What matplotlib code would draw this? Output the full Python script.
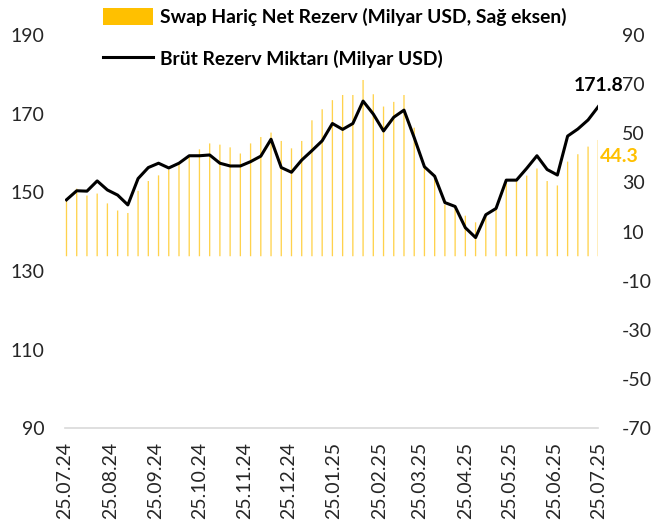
import matplotlib
matplotlib.use("Agg")
import matplotlib.pyplot as plt
import matplotlib.dates as mdates
import numpy as np
import pandas as pd

plt.rcParams['font.family'] = ['Lato', 'DejaVu Sans']
plt.rcParams['axes.unicode_minus'] = False

# haftalik veriler
tarih = pd.date_range('2024-07-26', periods=53, freq='7D')
brut = [148.1, 150.4, 150.3, 152.9, 150.6, 149.3, 146.8, 153.5, 156.3, 157.4,
        156.2, 157.4, 159.3, 159.3, 159.5, 157.4, 156.7, 156.7, 157.8, 159.2,
        163.5, 156.3, 155.1, 158.2, 160.6, 163.1, 167.5, 166.0, 167.5, 173.2,
        169.9, 165.6, 169.1, 170.9, 163.9, 156.5, 154.1, 147.4, 146.4, 141.0,
        138.5, 144.3, 145.9, 153.1, 153.1, 156.1, 159.3, 155.8, 154.4, 164.3,
        166.1, 168.4, 171.8]
net = [23.0, 27.5, 24.7, 25.5, 21.5, 18.6, 17.6, 26.6, 30.6, 32.9,
       35.3, 37.4, 40.5, 43.5, 45.9, 45.4, 44.3, 41.8, 45.9, 48.5,
       50.3, 46.9, 43.9, 46.9, 55.3, 59.8, 63.5, 65.6, 65.6, 71.7,
       65.9, 60.9, 62.8, 65.6, 52.3, 36.0, 31.5, 21.0, 20.1, 16.5,
       13.8, 17.2, 19.0, 30.5, 30.5, 32.8, 35.7, 30.6, 28.8, 38.5,
       41.5, 44.6, 47.3]
son_brut = '171.8'
son_net = '44.3'

etiket_net = 'Swap Hariç Net Rezerv (Milyar USD, Sağ eksen)'
etiket_brut = 'Brüt Rezerv Miktarı (Milyar USD)'

sari = '#FFC000'

fig = plt.figure(figsize=(6.67, 5.24), dpi=100)
ax = fig.add_axes([0.0975, 0.1826, 0.7995, 0.7506])
ax2 = ax.twinx()
ax.set_zorder(2)
ax2.set_zorder(1)
ax.patch.set_visible(False)

bars = ax2.bar(tarih, net, width=0.9, color=sari, linewidth=0, alpha=0.7,
               snap=False, label=etiket_net)
line, = ax.plot(tarih, brut, color='black', linewidth=2.2, label=etiket_brut)

ax.set_ylim(90, 190)
ax.set_yticks(np.arange(90, 191, 20))
ax2.set_ylim(-70, 90)
ax2.set_yticks(np.arange(-70, 91, 20))

ax.set_xlim(pd.Timestamp('2024-07-25'), pd.Timestamp('2025-07-25'))
ticks = pd.date_range('2024-07-01', '2025-07-25', freq='MS') + pd.Timedelta(days=24)
ax.set_xticks(ticks)
ax.xaxis.set_major_formatter(mdates.DateFormatter('%d.%m.%y'))
for lbl in ax.get_xticklabels():
    lbl.set_rotation(90)

for a in (ax, ax2):
    for s in a.spines.values():
        s.set_visible(False)
    a.tick_params(length=0, labelsize=14, colors='#262626')
ax.spines['bottom'].set_visible(True)
ax.spines['bottom'].set_color('#D9D9D9')
ax.spines['bottom'].set_linewidth(1.2)
ax.tick_params(axis='y', pad=15)
ax.tick_params(axis='x', pad=10)
ax2.tick_params(axis='y', pad=17)

ax.text(tarih[-1], brut[-1] + 3.2, son_brut, ha='center', va='bottom',
        fontsize=14, fontweight='bold', color='black')
ax2.text(tarih[-1] + pd.Timedelta(days=1), 40.5, son_net, ha='left', va='center',
         fontsize=14, fontweight='bold', color=sari)

leg = fig.legend([bars, line], [etiket_net, etiket_brut], loc='upper left',
                 bbox_to_anchor=(0.128, 1.018), frameon=False,
                 prop={'weight': 'bold', 'size': 13.9}, handlelength=2.6,
                 handleheight=1.0, labelspacing=1.2, handletextpad=0.35)
leg.legend_handles[0].set_alpha(1)

fig.savefig('out.png', dpi=100)
